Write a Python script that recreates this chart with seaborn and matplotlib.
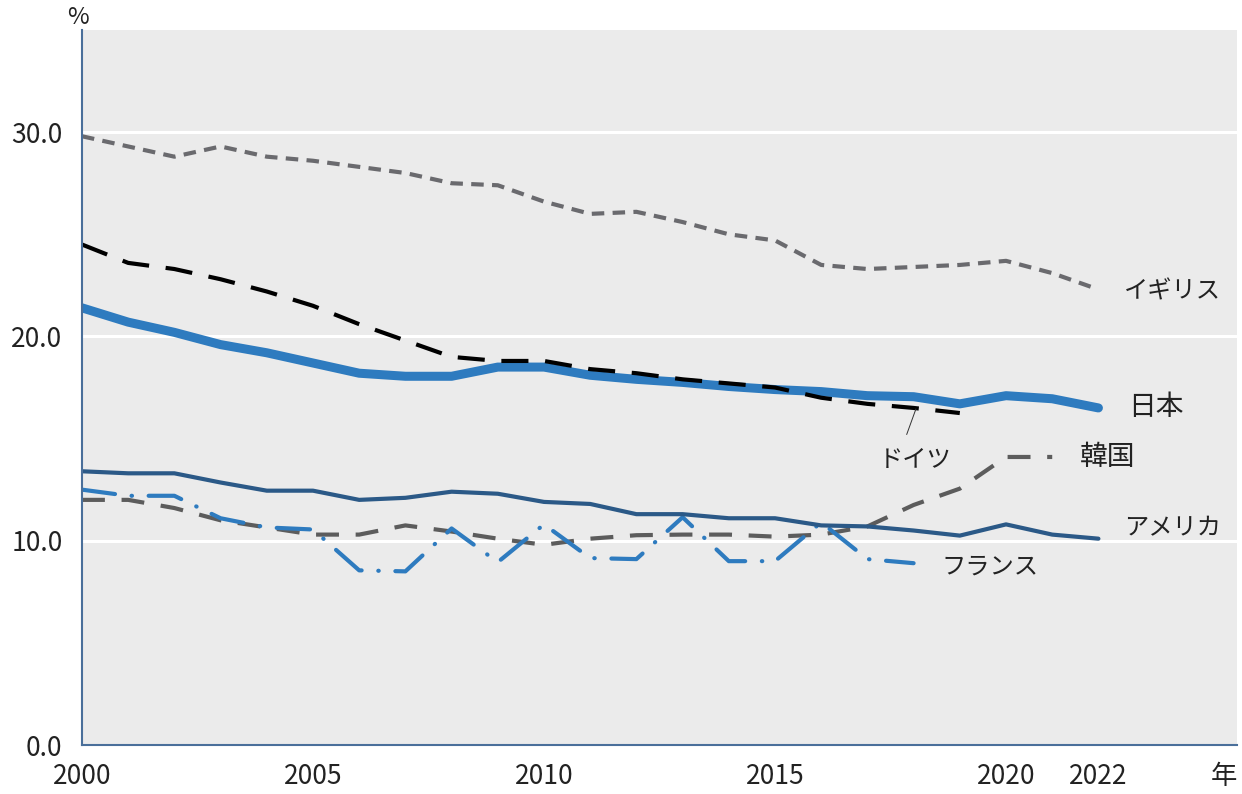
import matplotlib
matplotlib.use("Agg")
import matplotlib.pyplot as plt
import seaborn as sns
import pandas as pd

# data (%)
years = list(range(2000, 2023))
uk = [29.8, 29.3, 28.8, 29.3, 28.8, 28.6, 28.3, 28.0, 27.5, 27.4, 26.6, 26.0,
      26.1, 25.6, 25.0, 24.7, 23.5, 23.3, 23.4, 23.5, 23.7, 23.1, 22.3]
germany = [24.5, 23.6, 23.3, 22.8, 22.2, 21.5, 20.6, 19.8, 19.0, 18.8, 18.8, 18.4,
           18.2, 17.9, 17.7, 17.5, 17.0, 16.7, 16.5, 16.25]
japan = [21.4, 20.7, 20.2, 19.6, 19.2, 18.7, 18.2, 18.05, 18.05, 18.5, 18.5, 18.1,
         17.9, 17.75, 17.55, 17.4, 17.3, 17.1, 17.05, 16.7, 17.1, 16.95, 16.5]
usa = [13.4, 13.3, 13.3, 12.85, 12.45, 12.45, 12.0, 12.1, 12.4, 12.3, 11.9, 11.8,
       11.3, 11.3, 11.1, 11.1, 10.75, 10.7, 10.5, 10.25, 10.8, 10.3, 10.1]
korea = [12.0, 12.0, 11.6, 11.0, 10.65, 10.3, 10.3, 10.75, 10.45, 10.1, 9.8, 10.1,
         10.27, 10.3, 10.3, 10.2, 10.3, 10.7, 11.75, 12.55, 14.1, 14.1]
france = [12.5, 12.2, 12.2, 11.1, 10.65, 10.55, 8.55, 8.5, 10.6, 8.95, 10.8, 9.15,
          9.1, 11.15, 9.0, 9.0, 10.9, 9.1, 8.9]

x_ticks = [2000, 2005, 2010, 2015, 2020, 2022, 2025]
x_labels = ["2000", "2005", "2010", "2015", "2020", "2022", "年"]
y_ticks = [0, 10, 20, 30]
y_labels = ["0.0", "10.0", "20.0", "30.0"]

sns.set_style("white")
plt.rcParams["font.family"] = ["Noto Sans CJK JP", "DejaVu Sans"]

axis_col = "#4a6f9a"
fig = plt.figure(figsize=(12.42, 7.94), dpi=100)
ax = fig.add_axes([0.066, 0.0617, 0.930, 0.9005])
ax.set_facecolor("#ebebeb")

# series
sns.lineplot(x=years[:len(korea)], y=korea, ax=ax, color="#5c5c5c", lw=3,
             linestyle=(0, (5.5, 4)), solid_capstyle="butt")
sns.lineplot(x=years[:len(france)], y=france, ax=ax, color="#2e7bbf", lw=3,
             linestyle=(0, (8, 4, 0.1, 4)), dash_capstyle="round")
sns.lineplot(x=years, y=usa, ax=ax, color="#2b5987", lw=3)
sns.lineplot(x=years, y=uk, ax=ax, color="#6a6a6e", lw=3,
             linestyle=(0, (3, 2)))
sns.lineplot(x=years, y=japan, ax=ax, color="#2e7bbf", lw=6.5,
             solid_capstyle="round")
sns.lineplot(x=years[:len(germany)], y=germany, ax=ax, color="black", lw=3,
             linestyle=(0, (6.5, 4)))

ax.set_xlim(2000, 2025)
ax.set_ylim(0, 35)

ax.set_yticks(y_ticks)
ax.set_yticklabels(y_labels)
ax.set_yticks([5, 15, 25, 35], minor=True)
ax.set_xticks(x_ticks)
xl = ax.set_xticklabels(x_labels)
xl[-1].set_horizontalalignment("right")
ax.grid(axis="y", which="major", color="white", lw=2.2)
ax.grid(axis="x", visible=False)
ax.set_axisbelow(True)

for s in ["top", "right"]:
    ax.spines[s].set_visible(False)
for s in ["left", "bottom"]:
    ax.spines[s].set_color(axis_col)
    ax.spines[s].set_linewidth(1.5)

ax.tick_params(axis="both", which="both", direction="out", length=8,
               width=1.3, color=axis_col, labelsize=19, labelcolor="#222222")
ax.tick_params(axis="y", pad=6)
ax.tick_params(axis="x", pad=5)
ax.set_xlabel("")
ax.set_ylabel("")

fig.text(0.063, 0.978, "%", fontsize=17, color="#222222", ha="center", va="center")

# series labels
kana = dict(fontsize=17.5, color="#222222", va="center", ha="left")
kanji = dict(fontsize=20, color="#222222", va="center", ha="left")
ax.text(2022.55, 22.2, "イギリス", **kana)
ax.text(2022.65, 16.55, "日本", **kanji)
ax.text(2017.25, 13.95, "ドイツ", **kana)
ax.text(2021.6, 14.1, "韓国", **kanji)
ax.text(2022.55, 10.6, "アメリカ", **kana)
ax.text(2018.6, 8.75, "フランス", **kana)
ax.plot([2018.05, 2017.85], [16.45, 15.2], color="#333333", lw=0.7)

fig.savefig("out.png", dpi=100)
